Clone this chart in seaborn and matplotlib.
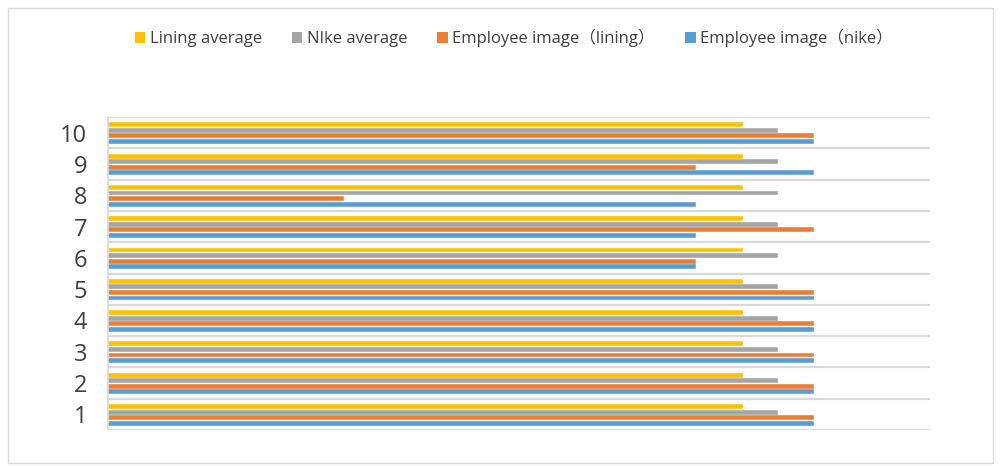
import numpy as np
import pandas as pd
import matplotlib
matplotlib.use("Agg")
import matplotlib.pyplot as plt
import seaborn as sns
from matplotlib.patches import Rectangle, Patch

categories = ["1", "2", "3", "4", "5", "6", "7", "8", "9", "10"]
lining_avg = [5.4] * 10
nike_avg = [5.7] * 10
emp_lining = [6, 6, 6, 6, 6, 5, 6, 2, 5, 6]
emp_nike = [6, 6, 6, 6, 6, 5, 5, 5, 6, 6]
series_names = ["Lining average", "NIke average", "Employee image\uff08lining\uff09", "Employee image\uff08nike\uff09"]
colors = ["#FFC000", "#A5A5A5", "#ED7D31", "#5B9BD5"]

rows = []
for name, vals in zip(series_names, [lining_avg, nike_avg, emp_lining, emp_nike]):
    for c, v in zip(categories, vals):
        rows.append({"cat": c, "series": name, "value": v})
df = pd.DataFrame(rows)

sns.set_theme(style="white")
plt.rcParams['font.family'] = ['Open Sans', 'Noto Sans CJK SC', 'DejaVu Sans']

fig = plt.figure(figsize=(10.01, 4.66), dpi=100)
ax = fig.add_axes([108/1001, 1-430/466, (930-108)/1001, (430-117)/466])

order = categories[::-1]
sns.barplot(data=df, y="cat", x="value", hue="series", order=order,
            hue_order=series_names, palette=colors, orient="h",
            width=0.71, gap=0.3, ax=ax, legend=False, saturation=1)
for p in ax.patches:
    p.set_edgecolor(p.get_facecolor())
    p.set_linewidth(0.4)

ax.set_xlim(0, 7)
ax.set_ylim(len(categories) - 0.5, -0.5)
ax.set_xlabel("")
ax.set_ylabel("")
ax.set_xticks([])
ax.set_yticks(np.arange(len(categories)))
ax.set_yticklabels(order, fontsize=17, color="#404040")
ax.set_yticks(np.arange(len(categories) + 1) - 0.5, minor=True)
ax.grid(True, which="minor", axis="y", color="#D9D9D9", linewidth=1.6)
ax.grid(False, which="major")
ax.tick_params(axis="y", which="both", length=0, pad=15)
for s in ["top", "right", "bottom"]:
    ax.spines[s].set_visible(False)
ax.spines["left"].set_color("#D9D9D9")
ax.spines["left"].set_linewidth(1.2)
ax.set_axisbelow(True)

handles = [Patch(facecolor=c, edgecolor="none") for c in colors]
fig.legend(handles, series_names, loc="center", bbox_to_anchor=(0.513, 1-38/466),
           ncol=4, frameon=False, fontsize=12, handlelength=0.65, handleheight=0.65,
           handletextpad=0.25, columnspacing=1.8, labelcolor="#404040")

fig.patches.append(Rectangle((8/1001, 3/466), 985/1001, 455/466, transform=fig.transFigure,
                             fill=False, edgecolor="#D9D9D9", linewidth=1))

fig.savefig("out.png", dpi=100)
